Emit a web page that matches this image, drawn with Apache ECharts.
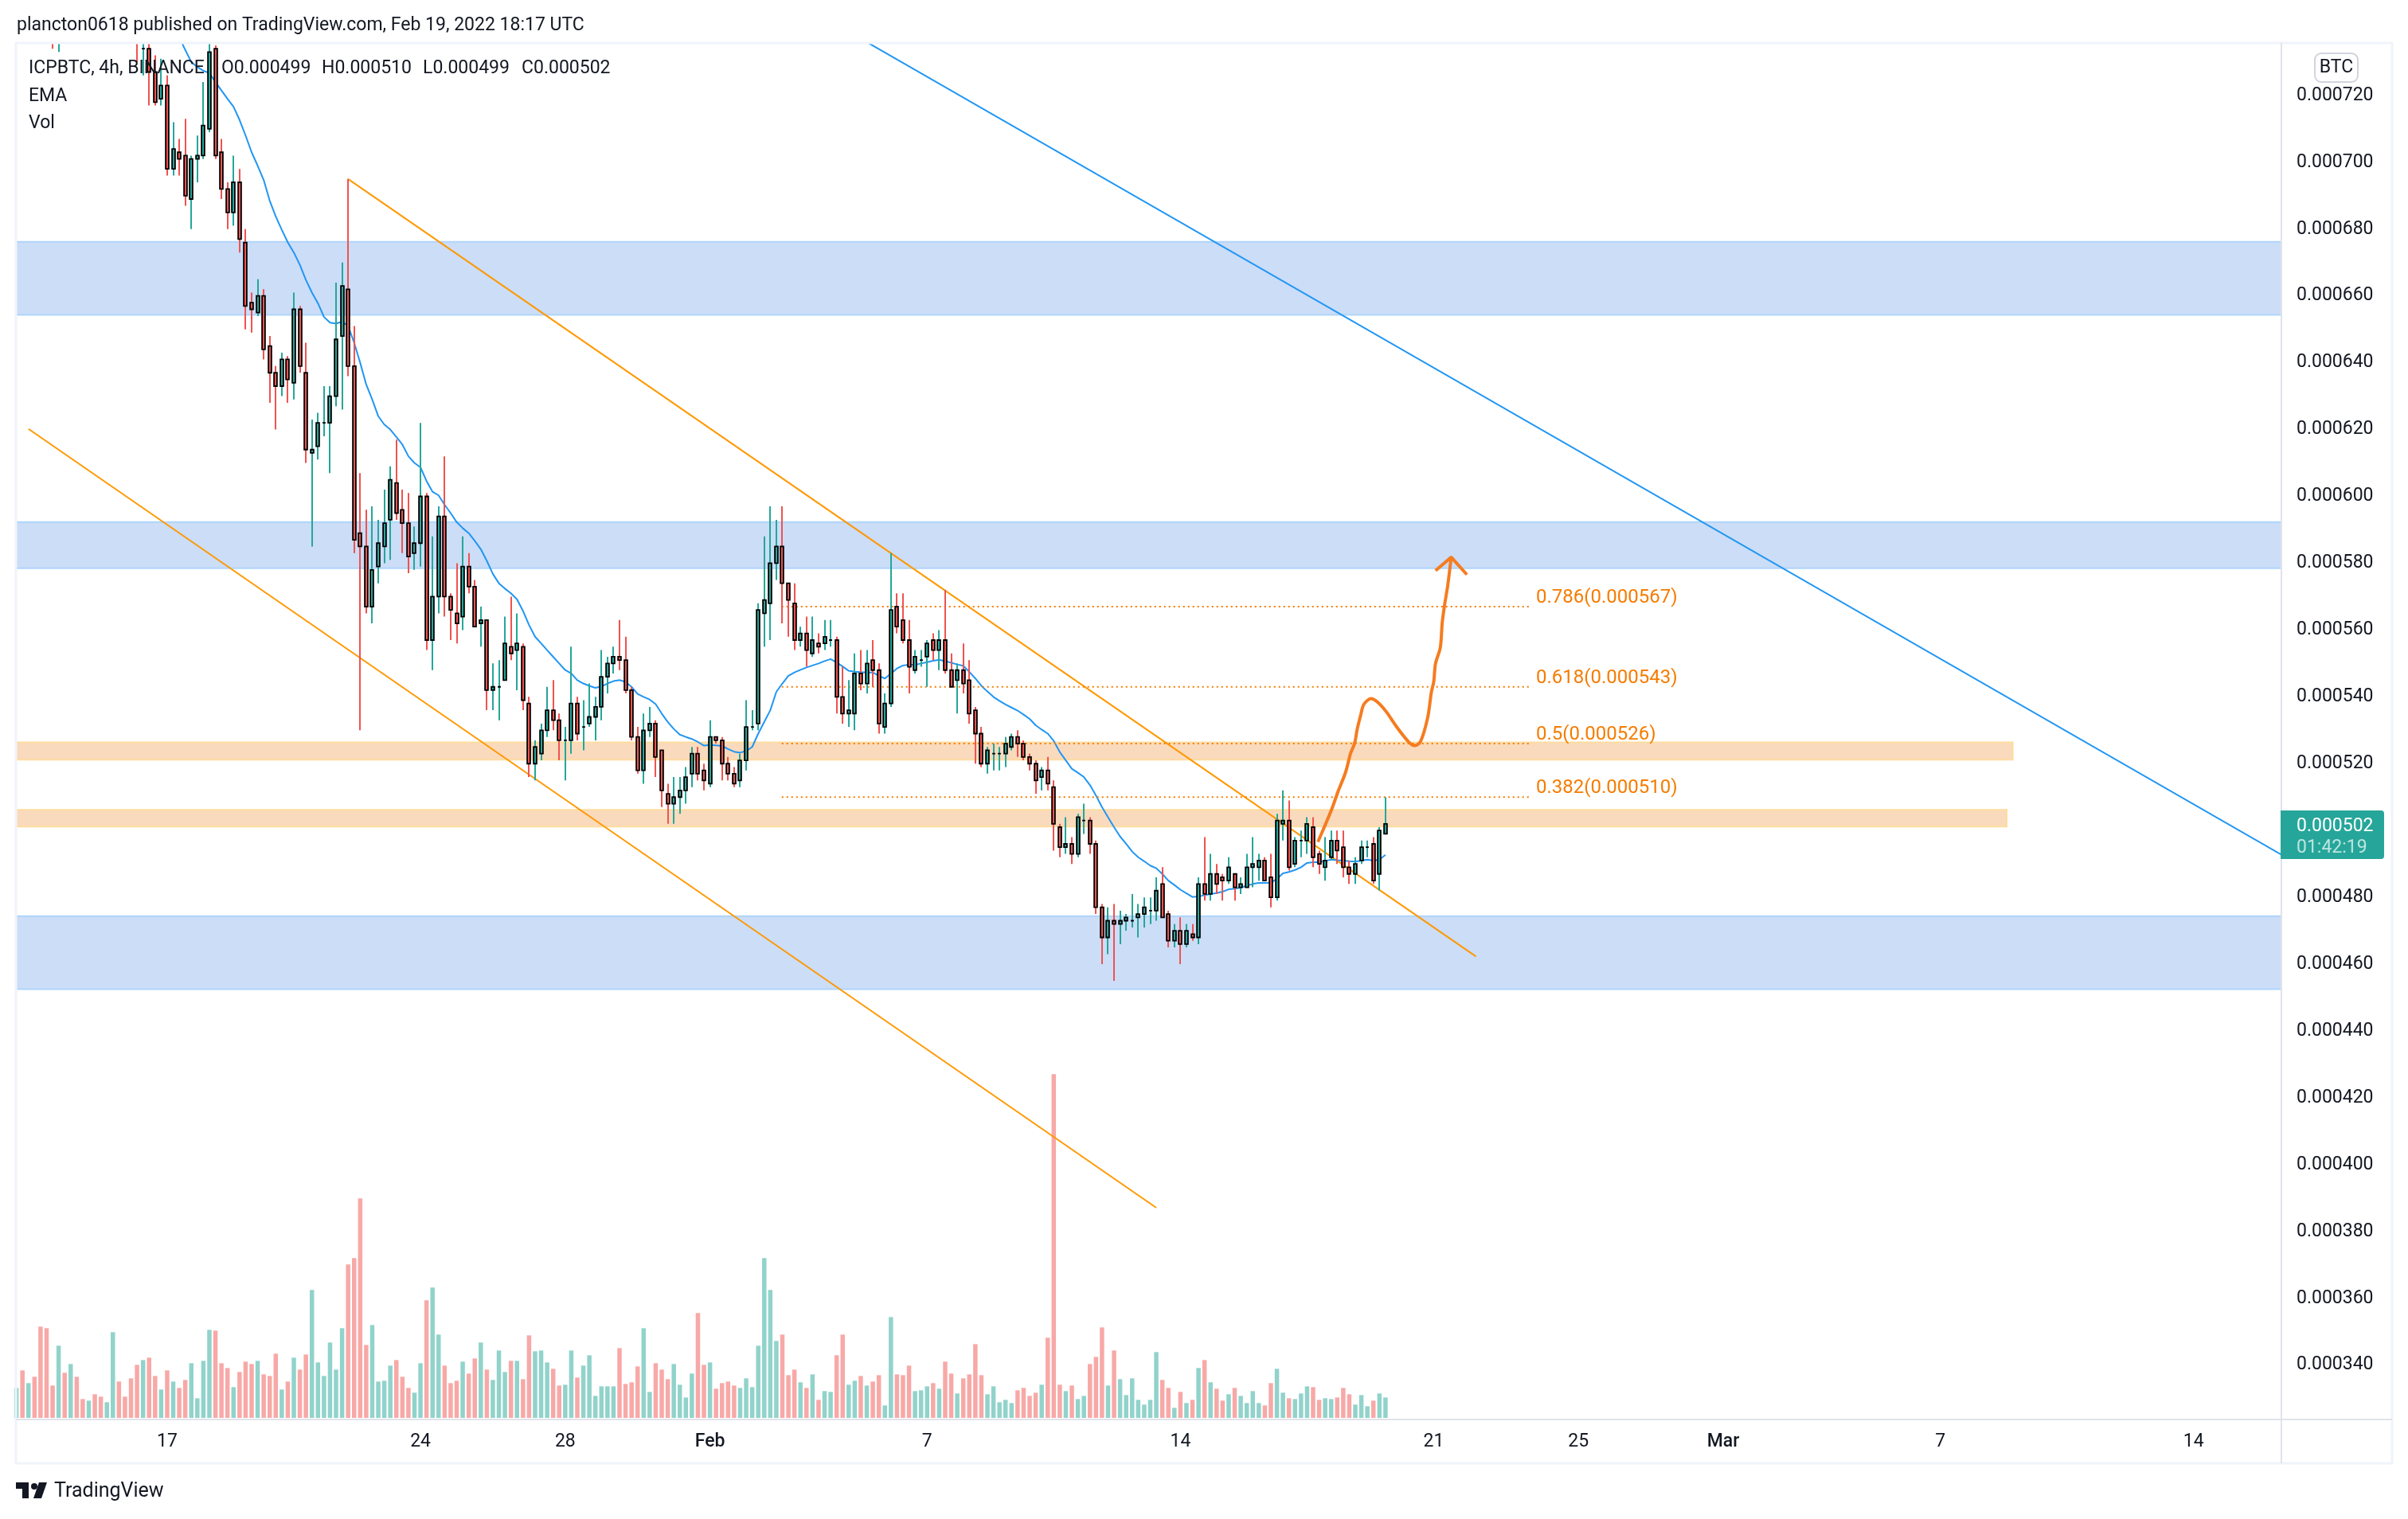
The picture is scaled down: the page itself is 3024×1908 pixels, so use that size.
<!DOCTYPE html>
<html>
<head>
<meta charset="utf-8">
<title>ICPBTC 4h</title>
<script src="https://cdn.jsdelivr.net/npm/echarts@6/dist/echarts.min.js"></script>
<style>
html, body { margin: 0; padding: 0; background: #fff; }
#chart { width: 3024px; height: 1908px; }
</style>
</head>
<body>
<div id="chart"></div>
<script>
// prices are in 1e-6 BTC, x is the 4h bar number (bar 0 = Jan 12 20:00 UTC)
var opens = [
    752,758,753,759,755,748,744,739,745,743,752,749,745,751,748,743,750,757,752,746,
    741,734,734,727,719,723,698,703,702,689,701,702,710,734,703,692,685,694,676,658,
    655,660,645,637,633,641,634,656,637,613,615,622,622,630,648,662,639,589,585,567,
    579,585,593,604,596,592,583,586,600,557,570,594,570,565,564,579,573,562,563,542,
    543,545,555,554,555,538,520,523,530,536,533,527,527,538,531,532,534,537,546,550,
    552,551,542,528,518,530,532,524,511,508,510,512,517,523,518,514,528,527,520,517,
    515,521,531,532,565,568,580,585,574,568,557,559,553,556,556,557,557,540,535,535,
    547,544,551,548,531,538,567,563,557,548,551,552,557,554,557,548,545,548,545,536,
    529,520,523,523,523,525,528,526,522,520,516,518,513,501,495,496,493,503,503,496,
    477,468,473,472,473,473,474,475,476,476,484,475,467,470,466,469,468,484,481,487,
    486,485,487,483,483,489,489,491,486,480,502,503,490,497,497,501,493,489,492,497,
    495,489,487,491,495,496,487,499
];
var highs = [
    760,762,761,763,758,752,748,747,750,755,756,751,754,755,752,753,760,761,755,748,
    744,740,739,732,731,726,712,707,713,702,708,724,737,735,707,694,702,698,680,661,
    665,662,648,639,643,642,661,657,646,623,625,633,633,664,670,695,651,607,596,597,
    593,602,609,617,602,601,591,622,601,588,597,612,571,580,588,583,575,567,563,550,
    551,564,570,565,556,540,527,532,543,545,535,531,555,540,539,544,540,554,552,555,
    563,558,543,531,535,537,533,524,514,516,516,519,525,525,520,533,528,528,522,519,
    523,539,536,568,588,597,593,597,574,574,561,564,564,559,563,563,558,549,545,553,
    554,554,557,550,541,583,571,571,563,554,554,557,559,560,572,553,550,556,551,537,
    531,525,526,525,528,529,530,527,523,521,519,522,515,502,504,498,505,508,504,497,
    478,477,478,476,475,481,478,480,480,486,489,476,472,474,472,472,486,498,493,490,
    487,492,487,486,493,498,493,492,493,505,512,509,498,500,504,504,494,498,500,500,
    500,491,492,497,497,498,501,510
];
var lows = [
    748,750,751,752,745,740,734,733,741,741,747,742,743,746,741,742,748,750,744,739,
    730,726,717,717,717,696,696,696,687,680,694,701,709,701,689,680,681,673,650,649,
    654,641,628,620,630,628,629,637,610,585,611,618,607,627,626,636,583,530,565,562,
    574,580,581,593,583,577,578,579,554,548,565,564,557,556,560,571,561,555,536,536,
    533,545,551,542,536,516,515,521,528,530,521,515,523,527,524,531,527,533,541,547,
    548,541,527,517,514,528,516,507,502,502,505,508,513,515,512,513,526,515,515,513,
    513,518,530,530,555,557,575,562,558,554,555,549,552,553,554,555,535,532,531,530,
    542,541,543,529,529,537,559,556,541,547,549,543,551,548,547,543,535,541,532,520,
    519,517,518,518,519,524,522,521,518,511,512,512,494,492,493,490,492,499,493,475,
    460,463,455,466,470,471,468,471,472,473,474,465,465,460,465,467,466,479,479,481,
    479,484,479,481,483,483,485,485,477,479,497,488,489,492,493,489,487,485,491,490,
    486,484,484,490,492,484,482,499
];
var closes = [
    758,753,759,755,748,744,739,745,743,752,749,745,751,748,743,750,757,752,746,741,
    736,734,727,718,723,698,704,701,690,701,702,711,733,702,692,685,694,677,657,656,
    660,644,637,633,641,635,656,639,614,614,622,622,630,647,663,639,587,585,567,578,
    586,592,605,595,592,582,586,600,557,570,594,570,566,562,579,573,561,563,542,543,
    543,556,553,556,539,520,525,530,536,533,527,527,538,529,531,534,537,546,550,552,
    551,542,528,518,530,532,522,512,508,510,512,516,523,517,515,528,527,520,517,514,
    521,531,531,566,569,580,585,574,569,557,559,554,557,555,558,557,540,535,536,547,
    544,550,548,532,538,566,561,557,549,552,551,556,554,557,548,543,548,544,535,529,
    520,524,523,523,526,528,526,522,520,515,518,514,502,495,496,493,504,503,496,477,
    468,473,472,473,474,473,475,477,476,482,474,467,470,466,470,468,484,481,487,484,
    485,489,483,484,489,490,491,485,480,503,503,489,497,497,502,492,490,491,497,494,
    489,487,490,495,495,485,500,502
];
var volumes = [
    113,179,131,155,344,338,122,272,170,203,155,71,65,89,80,59,323,137,80,149,
    200,218,227,158,107,179,137,113,143,206,74,215,332,329,206,188,116,173,212,203,
    215,164,158,242,107,137,227,182,239,482,209,158,284,182,338,578,602,827,275,350,
    137,140,197,218,155,113,95,206,443,491,314,197,131,140,212,167,224,284,182,143,
    254,173,215,215,146,311,251,254,209,185,122,125,254,152,197,236,83,119,119,119,
    263,128,134,194,338,98,206,182,146,203,125,77,167,395,200,209,110,131,137,122,
    113,149,116,272,602,482,290,314,161,182,134,113,164,68,101,98,236,314,125,140,
    158,122,137,161,47,380,164,161,197,101,104,119,131,110,212,167,92,149,164,278,
    161,89,119,59,68,56,104,113,83,95,125,302,1295,125,101,122,71,83,203,230,
    341,122,254,146,86,149,68,50,68,248,143,113,38,98,56,68,188,218,134,110,
    65,89,113,83,56,101,56,47,131,185,95,74,71,92,119,116,68,74,71,77,
    113,89,50,86,44,65,92,77
];
var ema = [
    null,null,null,null,null,null,null,null,null,null,null,null,null,null,null,null,null,null,null,null,
    null,null,null,null,null,null,null,737.5,733.6,730,728.5,727.4,726.7,724,721.5,719,716.6,712.7,708,703,
    699,694.7,688.5,683.8,679.8,676,673,669.3,664.8,661,657.8,653.7,652,651.7,652.3,651,646,640,633.5,629,
    624,621.5,620,617.8,615.5,612,610,608.7,604.6,601.4,600.3,597.5,595,592.3,590.5,589,586.7,584.2,580.7,576.8,
    574,572.4,571,569.2,565.7,561.5,558,556,554,552,550,548,547,545,544,543.3,542.7,543.1,544,544.7,
    545,544.5,543,540.9,540,539.2,537.8,535,532.5,530.4,528.7,528,527.4,526.5,525.4,525.6,525.5,525.3,524.4,523.6,
    523.3,523.8,525,529,532.5,536,541.5,544,546.3,547.3,548.1,548.8,549.4,550,550.7,551.3,550.3,549.1,547.8,547.5,
    547.4,547.3,547.3,546.3,545.5,547,548.5,549.4,549.6,549.6,550,550.4,550.8,551.1,550.7,550.2,549.7,549.3,547.5,545.5,
    543.3,541.6,540,538.8,537.7,536.8,535.9,534.7,533.4,531.5,530.2,529,526.8,523.5,521,518.5,517.3,516,513.6,510.5,
    507,504,501,498.2,496,493.7,492,490.8,489.5,488.7,487,485,483.7,482.3,481.2,480.1,480.3,480.6,481,481.3,
    481.7,482.4,482.6,482.9,483.5,484,484.3,484.3,484.4,485.5,487.2,487.6,488.2,489,490.3,490.5,490.5,490.9,491.3,491.1,
    491,490.8,490.7,491,491.3,491,491.3,492.7
];

var priceTicks = [340,360,380,400,420,440,460,480,500,520,540,560,580,600,620,640,660,680,700,720];
var tickBars = [25,67,91,115,151,193,235,259,283,319,361];
var tickLabels = ['17','24','28','Feb','7','14','21','25','Mar','7','14'];

var blueZones = [[676.2,654.3],[592.3,578.5],[474.4,452.5]];
var orangeZones = [[526.4,521.2,331],[506.2,501.2,330]];
var fibLevels = ['0.786','0.618','0.5','0.382'];
var fibPrices = [567,543,526,510];
var channelUpper = [[55,695],[242,462.3]];
var channelLower = [[2,620.2],[189,387.1]];
var blueTrend = [[140,737],[376,492.3]];
var forecast = [[215.8,496.6],[216.9,501.2],[218.1,506.4],[219.1,511.5],[220.4,517.5],[221.2,523],[221.9,526.2],
    [222.3,530.2],[222.9,534.6],[223.4,537.7],[224.6,539.5],[225.7,538.4],[227.2,535.4],[228.7,531.4],[230.8,526.6],
    [231.8,525.4],[232.8,526.6],[234,533.8],[234.6,541.3],[235,544.5],[235.3,550],[236.1,554.8],[236.4,562],
    [236.8,567.5],[237.3,573],[237.9,581.8]];
var arrowHead = [[235.3,577.8],[237.9,581.8],[240.5,576.6]];

var RED = '#ef5350', GREEN = '#26a69a', INK = '#131722', FONT = 'Roboto, sans-serif';
var xMin = -0.08, xMax = 375.55, yMin = 324.2, yMax = 735.7;

var candleData = opens.map(function (o, i) { return [i, o, closes[i], lows[i], highs[i]]; });
var volumeData = volumes.map(function (v, i) { return [i, v]; });
var emaData = ema.map(function (v, i) { return [i, v]; });

function isUp(i) { return closes[i] >= opens[i]; }

function renderCandle(params, api) {
    var i = api.value(0);
    var x = Math.round(api.coord([i, api.value(1)])[0]);
    var yO = api.coord([i, api.value(1)])[1];
    var yC = api.coord([i, api.value(2)])[1];
    var yL = api.coord([i, api.value(3)])[1];
    var yH = api.coord([i, api.value(4)])[1];
    var color = isUp(params.dataIndex) ? GREEN : RED;
    return {
        type: 'group',
        children: [
            { type: 'line', shape: { x1: x, y1: yH, x2: x, y2: yL }, style: { stroke: color, lineWidth: 2 } },
            {
                type: 'rect',
                shape: { x: x - 1.9, y: Math.min(yO, yC), width: 3.8, height: Math.abs(yC - yO) },
                style: { fill: color, stroke: '#000', lineWidth: 1.8 }
            }
        ]
    };
}

function drawnLine(data, color, width) {
    return {
        type: 'line', data: data, showSymbol: false, silent: true, z: 1,
        lineStyle: { color: color, width: width }
    };
}

function zoneArea(x0, top, x1, bottom) {
    return [{ coord: [x0, top] }, { coord: [x1, bottom] }];
}

function text(str, x, y, extra) {
    var style = { text: str, x: x, y: y, font: '23px ' + FONT, fill: INK, textVerticalAlign: 'middle' };
    for (var k in extra) style[k] = extra[k];
    return { type: 'text', z: 20, silent: true, style: style };
}

var series = [
    {
        type: 'line', data: [], silent: true, z: 0,
        markArea: {
            silent: true,
            itemStyle: { color: '#cbddf7', borderColor: '#b0d5fa', borderWidth: 2 },
            data: blueZones.map(function (z) { return zoneArea(xMin, z[0], xMax, z[1]); })
        }
    },
    {
        type: 'line', data: [], silent: true, z: 0,
        markArea: {
            silent: true,
            itemStyle: { color: '#fadabd', borderColor: '#fedc9f', borderWidth: 2 },
            data: orangeZones.map(function (z) { return zoneArea(xMin, z[0], z[2], z[1]); })
        }
    },
    {
        type: 'bar', yAxisIndex: 1, data: volumeData, barWidth: 5.5, silent: true, z: 1,
        itemStyle: { color: function (p) { return isUp(p.dataIndex) ? '#91d3cb' : '#f7a9a7'; } }
    },
    drawnLine(channelUpper, '#ff9800', 2),
    drawnLine(channelLower, '#ff9800', 2),
    drawnLine(blueTrend, '#2196f3', 2),
    drawnLine(emaData, '#2196f3', 2),
    {
        type: 'custom', data: candleData, renderItem: renderCandle, clip: true, silent: true, z: 3,
        encode: { x: 0, y: [1, 2, 3, 4] }
    }
];

fibPrices.forEach(function (p, i) {
    series.push({
        type: 'line', showSymbol: false, silent: true, z: 2,
        data: [[126.9, p], [250.9, p]],
        lineStyle: { color: '#f57c00', width: 2, type: [2, 4] },
        endLabel: {
            show: true, color: '#f57c00', fontFamily: FONT, fontSize: 24, offset: [0, -11],
            formatter: fibLevels[i] + '(0.000' + p + ')'
        }
    });
});

var forecastLine = drawnLine(forecast, '#f57c20', 4);
forecastLine.smooth = 0.3;
forecastLine.z = 5;
var arrowLine = drawnLine(arrowHead, '#f57c20', 4);
arrowLine.z = 5;
series.push(forecastLine, arrowLine);

var myChart = echarts.init(document.getElementById('chart'));

myChart.setOption({
    animation: false,
    backgroundColor: '#ffffff',
    grid: { left: 20, right: 159, top: 54, bottom: 127 },
    xAxis: {
        type: 'value', min: xMin, max: xMax,
        splitLine: { show: false },
        axisLine: { show: false },
        axisTick: { show: false },
        axisLabel: {
            customValues: tickBars, margin: 19,
            color: INK, fontFamily: FONT, fontSize: 23,
            formatter: function (v) {
                var label = tickLabels[tickBars.indexOf(v)];
                return isNaN(label) ? '{month|' + label + '}' : label;
            },
            rich: { month: { color: INK, fontFamily: FONT, fontSize: 23, fontWeight: 500 } }
        }
    },
    yAxis: [
        {
            type: 'value', position: 'right', min: yMin, max: yMax,
            splitLine: { show: false },
            axisLine: { show: false },
            axisTick: { show: false },
            axisLabel: {
                customValues: priceTicks, margin: 19, padding: [6, 0, 0, 0],
                color: INK, fontFamily: FONT, fontSize: 23,
                formatter: function (v) { return (v / 1e6).toFixed(6); }
            }
        },
        { type: 'value', min: 0, max: 5181, show: false, splitLine: { show: false } }
    ],
    series: series,
    graphic: [
        // frame and pane separators
        { type: 'rect', z: 10, silent: true, shape: { x: 20, y: 54, width: 2984, height: 1784 }, style: { fill: 'none', stroke: '#f0f3fa', lineWidth: 3 } },
        { type: 'line', z: 10, silent: true, shape: { x1: 2865, y1: 54, x2: 2865, y2: 1838 }, style: { stroke: '#e0e3eb', lineWidth: 2 } },
        { type: 'line', z: 10, silent: true, shape: { x1: 20, y1: 1783, x2: 3004, y2: 1783 }, style: { stroke: '#e0e3eb', lineWidth: 2 } },
        text('plancton0618 published on TradingView.com, Feb 19, 2022 18:17 UTC', 21, 32),
        text('ICPBTC, 4h, BINANCE', 36, 86),
        text('O0.000499', 278, 86),
        text('H0.000510', 404, 86),
        text('L0.000499', 531, 86),
        text('C0.000502', 655, 86),
        text('EMA', 36, 121),
        text('Vol', 36, 155),
        // unit button
        { type: 'rect', z: 20, silent: true, shape: { x: 2907, y: 67, width: 54, height: 36, r: 8 }, style: { fill: '#fff', stroke: '#d1d4dc', lineWidth: 2 } },
        text('BTC', 2934, 85, { textAlign: 'center' }),
        // last price tag
        { type: 'rect', z: 19, silent: true, shape: { x: 2864, y: 1018, width: 130, height: 61, r: [0, 4, 4, 0] }, style: { fill: GREEN } },
        text('0.000502', 2884, 1038, { fill: '#ffffff' }),
        text('01:42:19', 2884, 1065, { fill: 'rgba(255,255,255,0.7)' }),
        // logo
        { type: 'polygon', z: 20, silent: true, shape: { points: [[20,1862],[36,1862],[36,1882],[28,1882],[28,1870],[20,1870]] }, style: { fill: INK } },
        { type: 'circle', z: 20, silent: true, shape: { cx: 43, cy: 1867, r: 4 }, style: { fill: INK } },
        { type: 'polygon', z: 20, silent: true, shape: { points: [[49,1862],[59,1862],[52,1882],[42,1882]] }, style: { fill: INK } },
        text('TradingView', 68, 1874, { font: '25px ' + FONT })
    ]
});
</script>
</body>
</html>
